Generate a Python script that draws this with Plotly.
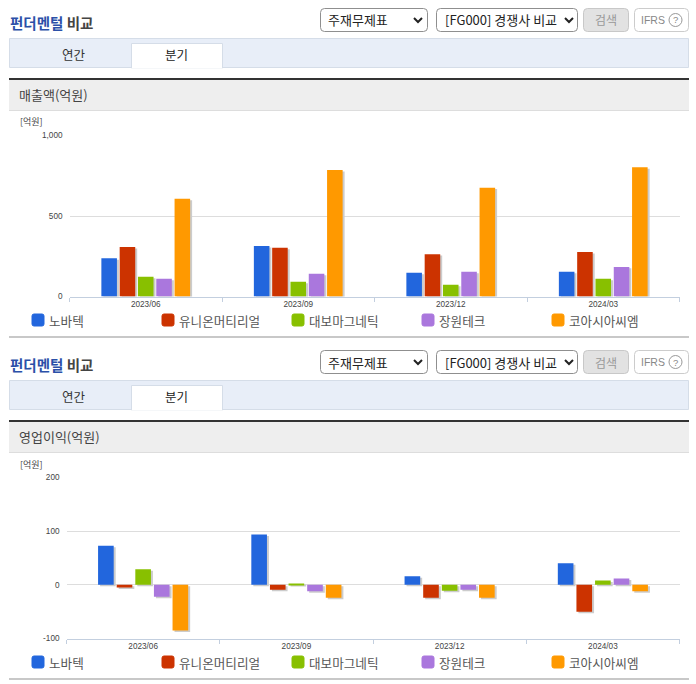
import plotly.graph_objects as go

W, H = 696, 684
categories = ["2023/06", "2023/09", "2023/12", "2024/03"]
series_names = ["노바텍", "유니온머티리얼", "대보마그네틱", "장원테크", "코아시아씨엠"]
colors = ["#2266dd", "#cc3300", "#88c000", "#aa77dd", "#ff9900"]

novatech_sales = [238, 313, 147, 153]
union_sales = [307, 303, 263, 276]
daebo_sales = [122, 91, 73, 110]
jangwon_sales = [110, 141, 153, 184]
coasia_sales = [607, 785, 676, 803]

novatech_profit = [73, 94, 16, 40]
union_profit = [-5, -9, -24, -50]
daebo_profit = [29, 2, -11, 8]
jangwon_profit = [-22, -12, -9, 12]
coasia_profit = [-85, -24, -24, -12]

sales = [novatech_sales, union_sales, daebo_sales, jangwon_sales, coasia_sales]
profit = [novatech_profit, union_profit, daebo_profit, jangwon_profit, coasia_profit]

KR = "Noto Sans CJK KR"
NUM = "Liberation Sans"


def px(x):
    return x / W


def py(y):
    return 1 - y / H


shapes, annotations = [], []


def rect(x0, y0, x1, y1, fill=None, line=None, lw=1):
    shapes.append(dict(type="rect", xref="paper", yref="paper", x0=px(x0), x1=px(x1),
                       y0=py(y1), y1=py(y0), fillcolor=fill or "rgba(0,0,0,0)",
                       line=dict(color=line or "rgba(0,0,0,0)", width=lw if line else 0), layer="below"))


def rrect(x0, y0, x1, y1, r, fill, line):
    X = lambda v: px(v)
    Y = lambda v: py(v)
    path = (f"M {X(x0+r)} {Y(y0)} L {X(x1-r)} {Y(y0)} Q {X(x1)} {Y(y0)} {X(x1)} {Y(y0+r)} "
            f"L {X(x1)} {Y(y1-r)} Q {X(x1)} {Y(y1)} {X(x1-r)} {Y(y1)} L {X(x0+r)} {Y(y1)} "
            f"Q {X(x0)} {Y(y1)} {X(x0)} {Y(y1-r)} L {X(x0)} {Y(y0+r)} Q {X(x0)} {Y(y0)} {X(x0+r)} {Y(y0)} Z")
    shapes.append(dict(type="path", xref="paper", yref="paper", path=path, fillcolor=fill,
                       line=dict(color=line, width=1), layer="below"))


def chevron(cx, cy):
    path = (f"M {px(cx-4)} {py(cy-2)} L {px(cx)} {py(cy+2)} L {px(cx+4)} {py(cy-2)}")
    shapes.append(dict(type="path", xref="paper", yref="paper", path=path,
                       line=dict(color="#222", width=2), layer="above"))


def text(x, y, s, size=12, color="#333", anchor="left", font=KR):
    annotations.append(dict(xref="paper", yref="paper", x=px(x), y=py(y), text=s, showarrow=False,
                            xanchor=anchor, yanchor="middle", align=anchor,
                            font=dict(family=font, size=size, color=color), borderpad=0, borderwidth=0))


def chrome(dy, heading):
    text(10, 23 + dy, '<b><span style="color:#2b50a8">펀더멘털</span></b> <b>비교</b>', 14.5, "#444")
    rrect(320.5, 8.5 + dy, 427.5, 31.5 + dy, 4, "#ffffff", "#8f8f8f")
    text(328, 20 + dy, "주재무제표", 13, "#222")
    chevron(418, 20 + dy)
    rrect(436.5, 8.5 + dy, 577.5, 31.5 + dy, 4, "#ffffff", "#8f8f8f")
    text(445, 20 + dy, "[FG000] 경쟁사 비교", 13, "#222")
    chevron(569, 20 + dy)
    rrect(583.5, 8.5 + dy, 628.5, 31.5 + dy, 4, "#e2e2e2", "#c8c8c8")
    text(606, 20 + dy, "검색", 12, "#999", "center")
    rrect(634.5, 8.5 + dy, 688.5, 31.5 + dy, 4, "#ffffff", "#cccccc")
    text(641, 20 + dy, "IFRS", 10.5, "#888", font=NUM)
    shapes.append(dict(type="circle", xref="paper", yref="paper", x0=px(669), x1=px(682),
                       y0=py(26.5 + dy), y1=py(13.5 + dy), line=dict(color="#999", width=1)))
    text(675.5, 20 + dy, "?", 9.5, "#888", "center", NUM)
    rect(9.5, 38.5 + dy, 688.5, 67.5 + dy, "#e8eef8", "#d5dde8")
    rect(131.5, 43.5 + dy, 222.5, 68 + dy, "#ffffff", "#d5dde8")
    rect(132, 60 + dy, 222, 68.5 + dy, "#ffffff")
    text(74, 54 + dy, "연간", 12.5, "#333", "center")
    text(176, 54 + dy, "분기", 12.5, "#222", "center")
    rect(9, 78 + dy, 689, 80 + dy, "#333333")
    rect(9, 80 + dy, 689, 110 + dy, "#eeeeee")
    rect(9, 110 + dy, 689, 111 + dy, "#dddddd")
    text(19, 95 + dy, heading, 13, "#444")
    text(20, 122 + dy, "[억원]", 9, "#444")
    for i, name in enumerate(series_names):
        x = 32 + 130 * i
        rrect(x, 314 + dy, x + 12, 326 + dy, 2, colors[i], colors[i])
        text(x + 17, 320 + dy, name, 12.6, "#555")
    rect(9, 336 + dy, 689, 338 + dy, "#c8c8c8")


chrome(0, "매출액(억원)")
chrome(342, "영업이익(억원)")

fig = go.Figure()


def bars(values_list, xa, ya, pitch, barw, shadow_dx, shadow_dy):
    for i, (name, vals) in enumerate(zip(series_names, values_list)):
        left = (i - 2.5) * pitch + (pitch - barw) / 2
        fig.add_trace(go.Bar(x=categories, y=vals, base=[-shadow_dy] * len(vals), xaxis=xa, yaxis=ya,
                             width=barw, offset=left + shadow_dx,
                             marker=dict(color="#cccccc", line=dict(width=0)),
                             showlegend=False, hoverinfo="skip"))
    for i, (name, vals) in enumerate(zip(series_names, values_list)):
        left = (i - 2.5) * pitch + (pitch - barw) / 2
        fig.add_trace(go.Bar(x=categories, y=vals, name=name, xaxis=xa, yaxis=ya,
                             width=barw, offset=left,
                             marker=dict(color=colors[i], line=dict(width=0)), showlegend=False))


bars(sales, "x", "y", 0.12, 0.102, 0.013, 9)
bars(profit, "x2", "y2", 0.1215, 0.102, 0.013, 2.8)

tick_font = dict(family=NUM, size=8.2, color="#444")


def xaxis(x0, x1, anchor):
    return dict(domain=[px(x0), px(x1)], anchor=anchor, type="category", categoryorder="array",
                categoryarray=categories, range=[-0.5, 3.5], tickson="boundaries", ticks="outside",
                ticklen=4, tickcolor="#c3cfdf", tickwidth=1, showline=True, linecolor="#c3cfdf",
                linewidth=1, showgrid=False, zeroline=False, tickfont=tick_font, fixedrange=True,
                automargin=False)


def yaxis(y_top, y_bot, anchor, rng, vals, labels):
    return dict(domain=[py(y_bot), py(y_top)], anchor=anchor, range=rng, tickmode="array", tickvals=vals,
                ticktext=labels, showgrid=True, gridcolor="#dddddd", gridwidth=1, zeroline=False,
                showline=False, ticks="", ticklabelstandoff=6, tickfont=tick_font, fixedrange=True,
                automargin=False)


fig.update_layout(
    template="none",
    width=W, height=H, margin=dict(l=0, r=0, t=0, b=0, pad=0), paper_bgcolor="#ffffff",
    plot_bgcolor="rgba(0,0,0,0)",
    barmode="overlay", showlegend=False, shapes=shapes, annotations=annotations,
    xaxis=xaxis(69.5, 679.5, "y"),
    yaxis=yaxis(135.5, 296.5, "x", [0, 1000], [0, 500, 1000], ["0", "500", "1,000"]),
    xaxis2=xaxis(66.5, 679.5, "y2"),
    yaxis2=yaxis(477.5, 638.5, "x2", [-100, 200], [-100, 0, 100, 200], ["-100", "0", "100", "200"]),
)

fig.write_html("out.html", config=dict(displayModeBar=False),
               post_script="document.body.style.margin='0';document.body.style.overflow='hidden';")
